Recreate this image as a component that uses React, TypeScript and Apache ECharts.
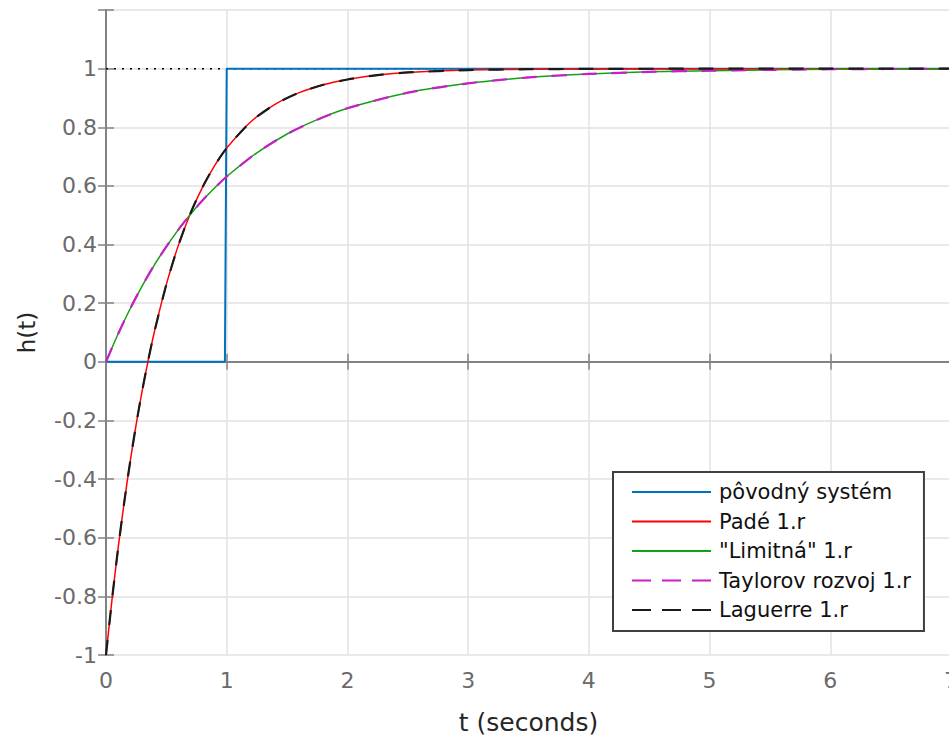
import React, { useEffect, useRef } from "react";
import * as echarts from "echarts";

// ---- data ----
const stepT = [0, 0.985, 1.0, 7];
const stepH = [0, 0, 1, 1];

const fastT = [0, 0.05, 0.1, 0.15, 0.2, 0.25, 0.3, 0.35, 0.4, 0.5, 0.6, 0.7, 0.8, 0.9, 1.0, 1.2, 1.4, 1.6, 1.8, 2.0, 2.25, 2.5, 3.0, 3.5, 4.0, 5.0, 6.0, 7.0];
const padeH = [-1, -0.81, -0.637, -0.482, -0.341, -0.213, -0.098, 0.006, 0.101, 0.264, 0.398, 0.507, 0.596, 0.669, 0.729, 0.819, 0.878, 0.918, 0.945, 0.963, 0.978, 0.987, 0.995, 0.998, 0.999, 1.0, 1.0, 1.0];
const laguerreH = [-1, -0.81, -0.637, -0.482, -0.341, -0.213, -0.098, 0.006, 0.101, 0.264, 0.398, 0.507, 0.596, 0.669, 0.729, 0.819, 0.878, 0.918, 0.945, 0.963, 0.978, 0.987, 0.995, 0.998, 0.999, 1.0, 1.0, 1.0];

const slowT = [0, 0.1, 0.2, 0.3, 0.4, 0.5, 0.6, 0.7, 0.8, 0.9, 1.0, 1.25, 1.5, 1.75, 2.0, 2.5, 3.0, 3.5, 4.0, 4.5, 5.0, 6.0, 7.0];
const limitH = [0, 0.095, 0.181, 0.259, 0.33, 0.393, 0.451, 0.503, 0.551, 0.593, 0.632, 0.713, 0.777, 0.826, 0.865, 0.918, 0.95, 0.97, 0.982, 0.989, 0.993, 0.998, 0.999];
const taylorH = [0, 0.095, 0.181, 0.259, 0.33, 0.393, 0.451, 0.503, 0.551, 0.593, 0.632, 0.713, 0.777, 0.826, 0.865, 0.918, 0.95, 0.97, 0.982, 0.989, 0.993, 0.998, 0.999];

const finalT = [0, 7];
const finalH = [1, 1];

const seriesNames = ["pôvodný systém", "Padé 1.r", "\"Limitná\" 1.r", "Taylorov rozvoj 1.r", "Laguerre 1.r"];
const xLabel = "t (seconds)";
const yLabel = "h(t)";

const zip = (xs: number[], ys: number[]) => xs.map((x, i) => [x, ys[i]]);

const FONT = "DejaVu Sans";
const AX = "#838383";

export default function App() {
  const ref = useRef<HTMLDivElement>(null);
  useEffect(() => {
    if (!ref.current) return;
    const chart = echarts.init(ref.current, undefined, { renderer: "svg" });
    const axisCommon = {
      axisLine: { show: true, lineStyle: { color: AX, width: 2 } },
      axisTick: { show: true, inside: true, length: 8, lineStyle: { color: AX, width: 1.5 } },
    };
    const curve = { symbol: "none", smooth: 0.25 };
    chart.setOption({
      animation: false,
      backgroundColor: "#ffffff",
      grid: { left: 106, top: 10, width: 845, height: 645, containLabel: false, outerBoundsMode: "none" },
      xAxis: [
        {
          type: "value", min: 0, max: 7, interval: 1, position: "bottom",
          ...axisCommon,
          axisLabel: { fontFamily: FONT, fontSize: 22, color: "#6a6a6a", margin: 14 },
          splitLine: { show: true, lineStyle: { color: "#e2e2e2", width: 1.5 } },
          name: xLabel, nameLocation: "middle", nameGap: 55,
          nameTextStyle: { fontFamily: FONT, fontSize: 25, color: "#262626" },
        },
        {
          type: "value", min: 0, max: 7, interval: 1, position: "top",
          ...axisCommon,
          axisLabel: { show: false }, splitLine: { show: false },
        },
      ],
      yAxis: [
        {
          type: "value", min: -1, max: 1.2, interval: 0.2, position: "left",
          ...axisCommon,
          axisLabel: {
            fontFamily: FONT, fontSize: 22, color: "#6a6a6a", margin: 9,
            formatter: (v: number) => (v > 1.05 ? "" : String(Math.round(v * 10) / 10)),
          },
          splitLine: { show: true, lineStyle: { color: "#e2e2e2", width: 1.5 } },
          name: yLabel, nameLocation: "middle", nameGap: 68,
          nameTextStyle: { fontFamily: FONT, fontSize: 23, color: "#262626" },
        },
        {
          type: "value", min: -1, max: 1.2, interval: 0.2, position: "right",
          ...axisCommon,
          axisLabel: { show: false }, splitLine: { show: false },
        },
      ],
      legend: {
        orient: "vertical",
        left: 613,
        top: 472,
        padding: [9, 13, 10, 18],
        itemWidth: 79,
        itemHeight: 22,
        itemGap: 7.5,
        borderColor: "#404040",
        borderWidth: 2,
        backgroundColor: "#ffffff",
        itemStyle: { opacity: 0 },
        textStyle: { fontFamily: FONT, fontSize: 21, color: "#111111", lineHeight: 22, padding: [0, 0, 0, 3] },
        data: [
          { name: seriesNames[0] },
          { name: seriesNames[1] },
          { name: seriesNames[2] },
          { name: seriesNames[3], lineStyle: { type: [19, 11] } },
          { name: seriesNames[4], lineStyle: { type: [19, 11] } },
        ],
      },
      series: [
        {
          name: "final", type: "line", data: zip(finalT, finalH), symbol: "none",
          lineStyle: { color: "#000000", width: 1.5, type: [2, 6] }, silent: true,
        },
        {
          name: seriesNames[0], type: "line", data: zip(stepT, stepH), symbol: "none",
          lineStyle: { color: "#0072BD", width: 2 }, itemStyle: { color: "#0072BD" },
        },
        {
          name: seriesNames[1], type: "line", data: zip(fastT, padeH), ...curve,
          lineStyle: { color: "#ff0000", width: 1.5 }, itemStyle: { color: "#ff0000" },
        },
        {
          name: seriesNames[2], type: "line", data: zip(slowT, limitH), ...curve,
          lineStyle: { color: "#14a014", width: 1.5 }, itemStyle: { color: "#14a014" },
        },
        {
          name: seriesNames[3], type: "line", data: zip(slowT, taylorH), ...curve,
          lineStyle: { color: "#c81ec8", width: 2.2, type: [15, 15] }, itemStyle: { color: "#c81ec8" },
        },
        {
          name: seriesNames[4], type: "line", data: zip(fastT, laguerreH), ...curve,
          lineStyle: { color: "#1a1a1a", width: 2.2, type: [15, 15] }, itemStyle: { color: "#1a1a1a" },
        },
      ],
    });
    return () => chart.dispose();
  }, []);
  return (
    <div
      ref={ref}
      style={{ position: "fixed", left: 0, top: 0, width: 949, height: 736, background: "#fff" }}
    />
  );
}
